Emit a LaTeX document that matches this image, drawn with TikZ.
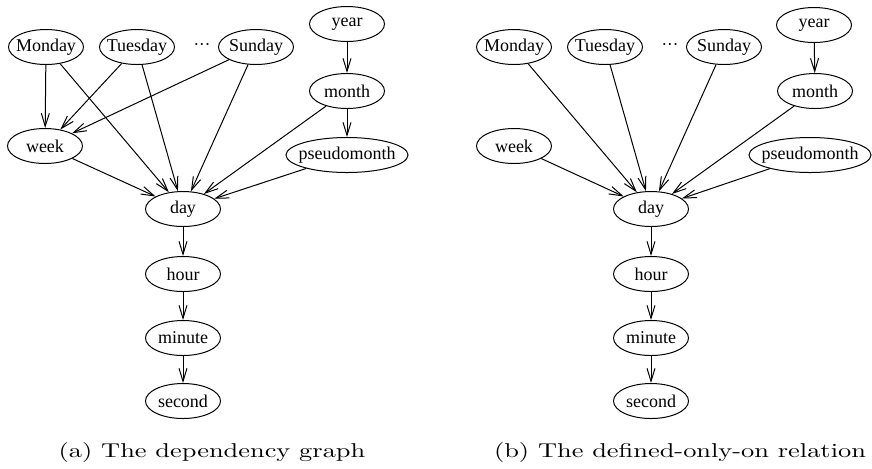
\documentclass[tikz,border=0pt]{standalone}
\usepackage{fontspec}
\newfontfamily\graphfont{Liberation Serif}
\usetikzlibrary{shapes.geometric,arrows.meta}
\tikzset{
  unit/.style={draw, ellipse, inner xsep=-3pt, inner ysep=0pt,
    minimum width=37.5pt, minimum height=17.5pt,
    font=\graphfont\fontsize{9}{10}\selectfont},
  wideunit/.style={unit, minimum width=61pt},
  dep/.style={-{Straight Barb[length=6.5pt,width=4pt]}},
}
\begin{document}
\begin{tikzpicture}[x=0.5pt,y=-0.5pt,line width=0.5pt]
   \useasboundingbox (0,0) rectangle (872,468);

   % (a) the dependency graph
   \node[unit] (mona) at (46,47) {Monday};
   \node[unit] (tuea) at (137,47) {Tuesday};
   \node (dotsa) at (202,45) {${\cdot}{\cdot}{\cdot}$};
   \node[unit] (suna) at (256,47) {Sunday};
   \node[unit] (yeara) at (347,24) {year};
   \node[unit] (montha) at (347,91) {month};
   \node[unit] (weeka) at (45,146) {week};
   \node[wideunit] (pseudoa) at (347,155) {pseudomonth};
   \node[unit] (daya) at (183,209) {day};
   \node[unit] (houra) at (183,274) {hour};
   \node[unit] (minutea) at (183,338) {minute};
   \node[unit] (seconda) at (183,401) {second};

   \draw[dep] (mona) -- (weeka);
   \draw[dep] (mona) -- (daya);
   \draw[dep] (tuea) -- (weeka);
   \draw[dep] (tuea) -- (daya);
   \draw[dep] (suna) -- (weeka);
   \draw[dep] (suna) -- (daya);
   \draw[dep] (yeara) -- (montha);
   \draw[dep] (montha) -- (pseudoa);
   \draw[dep] (montha) -- (daya);
   \draw[dep] (weeka) -- (daya);
   \draw[dep] (pseudoa) -- (daya);
   \draw[dep] (daya) -- (houra);
   \draw[dep] (houra) -- (minutea);
   \draw[dep] (minutea) -- (seconda);

   \node[anchor=base] (capa) at (212,457) {\scalebox{1.32}[1]{(a) The dependency graph}};

   % (b) the defined-only-on relation
   \node[unit] (monb) at (514,47) {Monday};
   \node[unit] (tueb) at (605,47) {Tuesday};
   \node (dotsb) at (670,45) {${\cdot}{\cdot}{\cdot}$};
   \node[unit] (sunb) at (724,47) {Sunday};
   \node[unit] (yearb) at (814,25) {year};
   \node[unit] (monthb) at (815,91) {month};
   \node[unit] (weekb) at (514,146) {week};
   \node[wideunit] (pseudob) at (810,155) {pseudomonth};
   \node[unit] (dayb) at (651,209) {day};
   \node[unit] (hourb) at (651,274) {hour};
   \node[unit] (minuteb) at (651,338) {minute};
   \node[unit] (secondb) at (651,401) {second};

   \draw[dep] (monb) -- (dayb);
   \draw[dep] (tueb) -- (dayb);
   \draw[dep] (sunb) -- (dayb);
   \draw[dep] (yearb) -- (monthb);
   \draw[dep] (monthb) -- (dayb);
   \draw[dep] (weekb) -- (dayb);
   \draw[dep] (pseudob) -- (dayb);
   \draw[dep] (dayb) -- (hourb);
   \draw[dep] (hourb) -- (minuteb);
   \draw[dep] (minuteb) -- (secondb);

   \node[anchor=base] (capb) at (680,457) {\scalebox{1.32}[1]{(b) The defined-only-on relation}};
\end{tikzpicture}
\end{document}
